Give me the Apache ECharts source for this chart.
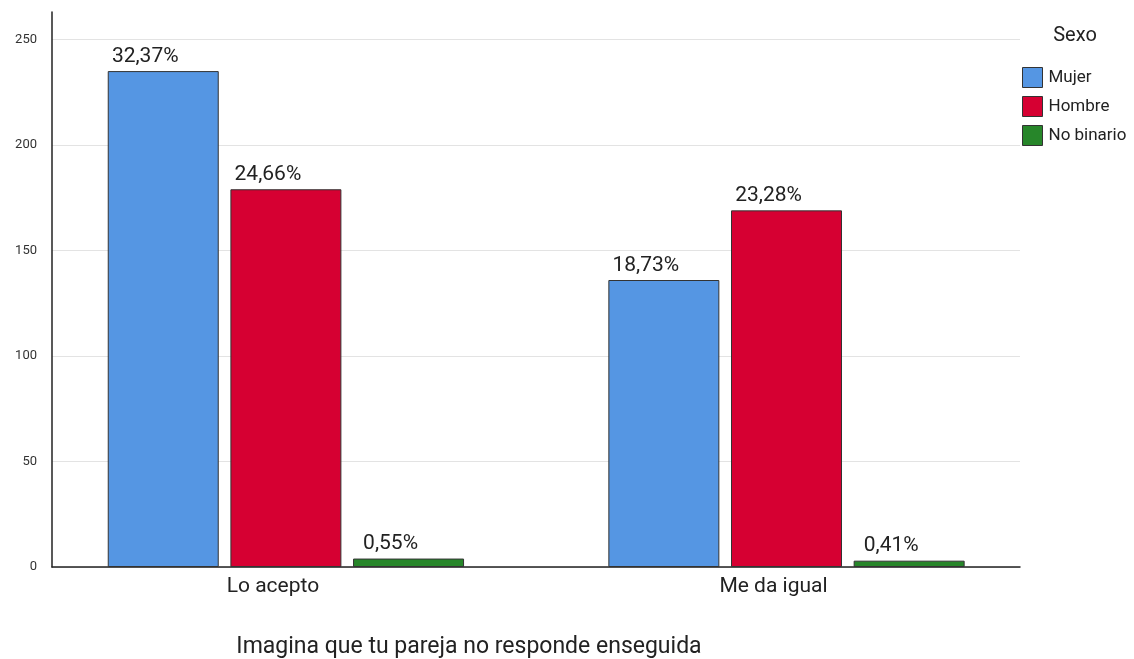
<!DOCTYPE html>
<html>
<head>
<meta charset="utf-8">
<script src="https://cdn.jsdelivr.net/npm/echarts@6/dist/echarts.min.js"></script>
<style>
html,body{margin:0;padding:0;background:#fff;}
#chart{width:1134px;height:659px;}
</style>
</head>
<body>
<div id="chart"></div>
<script>
const categories = ['Lo acepto', 'Me da igual'];
const seriesNames = ['Mujer', 'Hombre', 'No binario'];
const mujer = [235, 136];
const hombre = [179, 169];
const noBinario = [4, 3];
const mujerPct = ['32,37%', '18,73%'];
const hombrePct = ['24,66%', '23,28%'];
const noBinarioPct = ['0,55%', '0,41%'];
const yTicks = [0, 50, 100, 150, 200, 250];
const colors = ['#5596E3', '#D60032', '#27862A'];

const FONT = 'Roboto';
const YMAX = 263;

function barSeries(name, data, pcts, color) {
  return {
    name: name,
    type: 'bar',
    xAxisIndex: 1,
    yAxisIndex: 1,
    data: data,
    barWidth: 111,
    barGap: '10.5%',
    itemStyle: { color: color, borderColor: '#333', borderWidth: 1 },
    label: {
      show: true,
      position: 'top',
      distance: 4,
      offset: [-18, 0],
      fontFamily: FONT,
      fontSize: 21,
      color: '#222',
      formatter: function (p) { return pcts[p.dataIndex]; }
    },
    emphasis: { disabled: true }
  };
}

const chart = echarts.init(document.getElementById('chart'), null, { renderer: 'canvas' });
chart.setOption({
  animation: false,
  backgroundColor: '#fff',
  textStyle: { fontFamily: FONT },
  title: [
    {
      text: 'Imagina que tu pareja no responde enseguida',
      left: 464, top: 631, textAlign: 'center',
      textStyle: { fontFamily: FONT, fontSize: 23, fontWeight: 'normal', color: '#222' }
    },
    {
      text: 'Sexo',
      left: 1070, top: 21, textAlign: 'center',
      textStyle: { fontFamily: FONT, fontSize: 20, fontWeight: 'normal', color: '#222' }
    }
  ],
  legend: {
    data: seriesNames,
    orient: 'vertical',
    left: 1022, top: 67,
    padding: 0,
    itemWidth: 20, itemHeight: 20, itemGap: 8,
    icon: 'rect',
    itemStyle: { borderColor: '#333', borderWidth: 1 },
    textStyle: { fontFamily: FONT, fontSize: 17, color: '#222', padding: [0, 0, 0, 1] },
    selectedMode: false
  },
  grid: [
    { left: 52, right: 114, top: 12, bottom: 92 },
    { left: 35.6, right: 97.2, top: 12, bottom: 92 }
  ],
  xAxis: [
    {
      type: 'category', gridIndex: 0, data: categories,
      axisLine: { show: true, lineStyle: { color: '#222', width: 1.5 } },
      axisTick: { show: false },
      axisLabel: { show: false },
      splitLine: { show: false }
    },
    {
      type: 'category', gridIndex: 1, data: categories,
      axisLine: { show: false },
      axisTick: { show: false },
      axisLabel: {
        show: true, margin: 9, fontFamily: FONT, fontSize: 21, color: '#222',
        padding: [0, 26, 0, 0]
      },
      splitLine: { show: false }
    }
  ],
  yAxis: [
    {
      type: 'value', gridIndex: 0, min: yTicks[0], max: YMAX, interval: yTicks[1] - yTicks[0],
      axisLine: { show: true, lineStyle: { color: '#222', width: 1.5 } },
      axisTick: { show: false },
      axisLabel: {
        showMaxLabel: false, margin: 15, fontFamily: FONT, fontSize: 13, color: '#333',
        formatter: function (v) { return yTicks.indexOf(v) >= 0 ? String(v) : ''; }
      },
      splitLine: { show: true, showMaxLine: false, lineStyle: { color: '#e3e3e3', width: 1 } }
    },
    {
      type: 'value', gridIndex: 1, min: yTicks[0], max: YMAX, interval: yTicks[1] - yTicks[0],
      show: false,
      splitLine: { show: false }
    }
  ],
  series: [
    barSeries(seriesNames[0], mujer, mujerPct, colors[0]),
    barSeries(seriesNames[1], hombre, hombrePct, colors[1]),
    barSeries(seriesNames[2], noBinario, noBinarioPct, colors[2])
  ]
});
</script>
</body>
</html>
